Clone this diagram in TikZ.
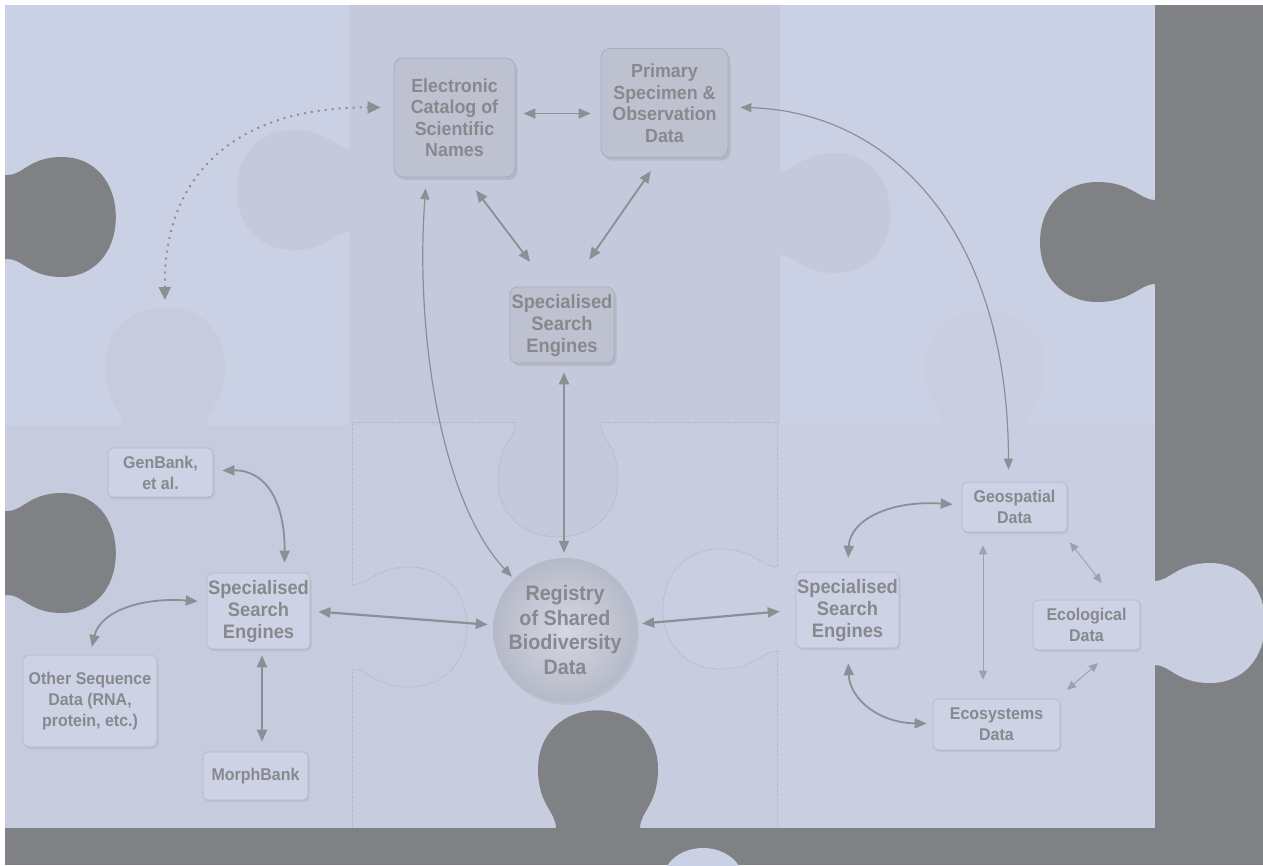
\documentclass[tikz,border=0pt]{standalone}
\usepackage{fontspec}
\setmainfont{Liberation Sans}[FakeStretch=0.94]
\usetikzlibrary{arrows.meta,shadows}
\definecolor{gbg}{HTML}{7F8184}
\definecolor{cA}{HTML}{CBD1E4}
\definecolor{cB}{HTML}{C4C9DB}
\definecolor{cC}{HTML}{C6CBDD}
\definecolor{cD}{HTML}{C7CCDE}
\definecolor{cE}{HTML}{C9CEE1}
\definecolor{dbox}{HTML}{BEC2D0}
\definecolor{dline}{HTML}{A8ACBA}
\definecolor{lbox}{HTML}{CDD2E4}
\definecolor{lline}{HTML}{B3B8C8}
\definecolor{txt}{HTML}{88898E}
\definecolor{arr}{HTML}{8E8F95}
\definecolor{arrl}{HTML}{9EA0AA}
\definecolor{dotc}{HTML}{A9AEC0}
\definecolor{regin}{HTML}{D5D8E3}
\definecolor{regout}{HTML}{B6B9C7}
\tikzset{
  pics/bulb/.style={code={\path[pic actions] (-3,-42) -- (0,-42) .. controls (15,-42) and (22,-60) .. (55,-60) .. controls (88,-60) and (110,-35) .. (110,0) .. controls (110,35) and (88,60) .. (55,60) .. controls (22,60) and (15,42) .. (0,42) -- (-3,42) -- cycle;}},
  dotline/.style={draw=dotc, line width=0.8pt, dash pattern=on 1pt off 1.5pt},
  pics/bulbline/.style={code={\draw[dotline] (0,-42) .. controls (15,-42) and (22,-60) .. (55,-60) .. controls (88,-60) and (110,-35) .. (110,0) .. controls (110,35) and (88,60) .. (55,60) .. controls (22,60) and (15,42) .. (0,42);}},
  darkbox/.style={draw=dline, line width=0.8pt, fill=dbox, rounded corners=9pt, text=txt, align=center, inner sep=0pt,
    font=\bfseries\fontsize{19}{21.5}\selectfont, drop shadow={shadow xshift=2.5pt, shadow yshift=-3pt, opacity=0.22}},
  lightbox/.style={draw=lline, line width=0.6pt, fill=lbox, rounded corners=5pt, text=txt, align=center, inner sep=0pt,
    font=\bfseries\fontsize{17}{21}\selectfont, drop shadow={shadow xshift=1.5pt, shadow yshift=-2pt, opacity=0.16}},
  ssefont/.style={font=\bfseries\fontsize{19.5}{22}\selectfont},
  regnode/.style={circle, minimum size=144pt, inner sep=0pt, inner color=regin, outer color=regout, text=txt, align=center,
    font=\bfseries\fontsize{21}{24.5}\selectfont, drop shadow={shadow xshift=2pt, shadow yshift=-3pt, opacity=0.15}},
  link/.style={draw=arr, line width=1.8pt, {Triangle[length=12pt,width=10pt]}-{Triangle[length=12pt,width=10pt]}},
  thinlink/.style={draw=arr, line width=1.2pt, {Triangle[length=11pt,width=9pt]}-{Triangle[length=11pt,width=9pt]}},
  hairlink/.style={draw=arrl, line width=0.9pt, {Triangle[length=9pt,width=8pt]}-{Triangle[length=9pt,width=8pt]}},
  dotlink/.style={draw=arr, line width=2pt, dash pattern=on 2pt off 5pt, {Triangle[length=13pt,width=12pt]}-{Triangle[length=13pt,width=12pt]}}
}
\begin{document}
\begin{tikzpicture}[x=1pt,y=-1pt]
\useasboundingbox (0,0) rectangle (1263,865);
\begin{scope}
\clip (0,0) rectangle (1263,865);
\fill[white] (0,0) rectangle (1263,865);
\fill[gbg] (5,5) rectangle (1263,865);
% pieces
\fill[cA] (5,5) rectangle (350,425);
\fill[cB] (350,5) rectangle (780,425);
\fill[cA] (780,5) rectangle (1155,425);
\fill[cC] (5,425) rectangle (350,828);
\fill[cD] (350,425) rectangle (780,828);
\fill[cE] (780,425) rectangle (1155,828);
% tabs between pieces
\pic[fill=cB, rotate=180, xscale=1.03] at (350,190) {bulb};
\pic[fill=cB] at (780,213) {bulb};
\pic[fill=cB, rotate=-90, xscale=1.045] at (558,422) {bulb};
\pic[fill=cC, rotate=90, xscale=1.07] at (165,425) {bulb};
\pic[fill=cE, rotate=90, xscale=1.045] at (985,425) {bulb};
\pic[fill=cC, xscale=1.045] at (352,627) {bulb};
\pic[fill=cE, rotate=180, xscale=1.036] at (777,609) {bulb};
\pic[fill=cE] at (1155,623) {bulb};
% gray bulbs
\pic[fill=gbg, xscale=0.98] at (8,217) {bulb};
\pic[fill=gbg, xscale=0.98] at (8,553) {bulb};
\pic[fill=gbg, rotate=180, xscale=1.045] at (1155,242) {bulb};
\pic[fill=gbg, rotate=90, xscale=1.07] at (598,828) {bulb};
\fill[cA] (703,880) ellipse [x radius=40, y radius=32];
% dotted outline of the lower middle piece
\draw[dotline] (352,828) -- (352,669);
\draw[dotline] (352,585) -- (352,422) -- (516,422);
\draw[dotline] (600,422) -- (777,422) -- (777,567);
\draw[dotline] (777,651) -- (777,828);
\pic[xscale=1.045] at (352,627) {bulbline};
\pic[rotate=-90, xscale=1.045] at (558,422) {bulbline};
\pic[rotate=180, xscale=1.036] at (777,609) {bulbline};
\end{scope}
% nodes
\node[darkbox, minimum width=121pt, minimum height=119pt] (cat) at (454.5,117.5) {Electronic\\Catalog of\\Scientific\\Names};
\node[darkbox, minimum width=127pt, minimum height=109pt] (prim) at (664.5,103) {Primary\\Specimen \&\\Observation\\Data};
\node[darkbox, ssefont, minimum width=104pt, minimum height=76pt, rounded corners=7pt] (sse1) at (562,325) {Specialised\\Search\\Engines};
\node[regnode] (reg) at (565,630) {Registry\\of Shared\\Biodiversity\\Data};
\node[lightbox, ssefont, minimum width=103pt, minimum height=76pt] (sseL) at (258.5,611) {Specialised\\Search\\Engines};
\node[lightbox, minimum width=105pt, minimum height=49pt] (gen) at (160.5,472.5) {GenBank,\\et al.};
\node[lightbox, minimum width=134pt, minimum height=92pt, rounded corners=7pt] (other) at (90,701) {Other Sequence\\Data (RNA,\\protein, etc.)};
\node[lightbox, minimum width=105pt, minimum height=48pt] (morph) at (255.5,776) {MorphBank};
\node[lightbox, ssefont, minimum width=103pt, minimum height=76pt] (sseR) at (847.5,610) {Specialised\\Search\\Engines};
\node[lightbox, minimum width=105pt, minimum height=50pt] (geo) at (1014.5,507) {Geospatial\\Data};
\node[lightbox, minimum width=107pt, minimum height=50pt] (eco) at (1086.5,625) {Ecological\\Data};
\node[lightbox, minimum width=127pt, minimum height=51pt] (ecos) at (996.5,724.5) {Ecosystems\\Data};
% connectors
\coordinate (dotend) at (165,300);
\draw[dotlink, shorten >=13pt] (dotend) .. controls (163,180) and (230,107) .. ([yshift=10pt]cat.west);
\draw[link, line width=1.5pt, shorten <=8pt, shorten >=10pt] ([yshift=4pt]cat.east) -- ([yshift=4pt]cat.east -| prim.west);
\draw[link, shorten <=16pt, shorten >=31pt] ([xshift=11.75pt]cat.south) -- ([xshift=-13.25pt]sse1.north);
\draw[link, shorten <=16pt, shorten >=33pt] ([xshift=-4.5pt]prim.south) -- ([xshift=8.4pt]sse1.north);
\draw[link, line width=2pt, shorten <=9pt, shorten >=5pt] ([xshift=2pt]sse1.south) -- ([xshift=2pt]sse1.south |- reg.north);
\draw[thinlink, shorten <=11pt, shorten >=3pt] ([xshift=-28pt]cat.south) .. controls (415,330) and (440,500) .. (reg.135);
\draw[thinlink, shorten <=12pt, shorten >=12pt] ([yshift=-4pt]prim.east) .. controls (890,112) and (1008,230) .. ([xshift=-6pt]geo.north);
\draw[link, line width=2.2pt, shorten <=8pt, shorten >=5pt] (sseL.east) -- ([yshift=5pt]reg.west);
\draw[link, line width=2.2pt, shorten <=5pt, shorten >=16pt] ([yshift=6pt]reg.east) -- (sseR.west);
\draw[link, shorten <=9pt, shorten >=10pt] ([yshift=2pt]gen.east) .. controls (268,470) and (285,505) .. ([xshift=26pt]sseL.north);
\draw[link, shorten <=9pt, shorten >=8pt] ([yshift=9pt]sseL.west) .. controls (140,597) and (100,612) .. (other.north);
\draw[link, shorten <=6pt, shorten >=10pt] ([xshift=3.5pt]sseL.south) -- ([xshift=3.5pt]sseL.south |- morph.north);
\draw[link, shorten <=9pt, shorten >=14pt] ([yshift=2pt]geo.west) .. controls (890,500) and (850,520) .. (sseR.north);
\draw[link, shorten <=15pt, shorten >=6pt] (sseR.south) .. controls (850,700) and (880,723) .. ([yshift=1pt]ecos.west);
\draw[hairlink, line width=1pt, shorten <=13pt, shorten >=19pt] ([xshift=-31.5pt]geo.south) -- ([xshift=-31.5pt]geo.south |- ecos.north);
\draw[hairlink, shorten <=12.7pt, shorten >=21.5pt] ([xshift=47.5pt]geo.south) -- ([xshift=28.5pt]eco.north);
\draw[hairlink, shorten <=13.7pt, shorten >=19.8pt] ([xshift=60.2pt]ecos.north) -- ([xshift=26.5pt]eco.south);
\end{tikzpicture}
\end{document}
